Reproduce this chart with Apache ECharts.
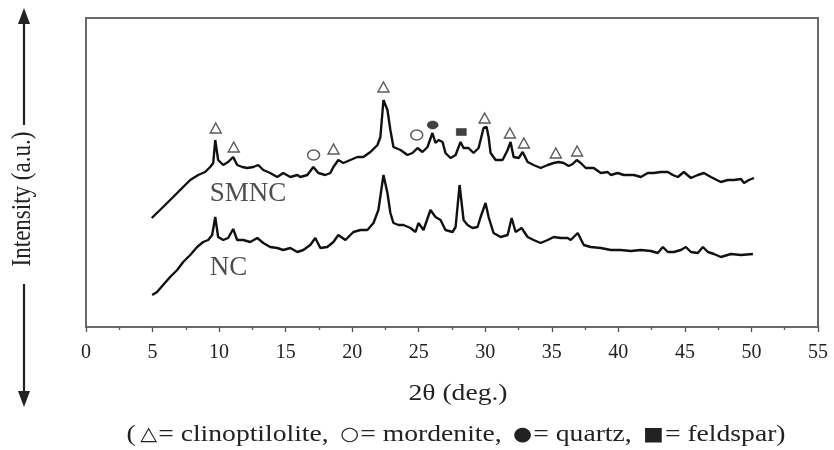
<!DOCTYPE html>
<html>
<head>
<meta charset="utf-8">
<script src="https://cdn.jsdelivr.net/npm/echarts@6/dist/echarts.min.js"></script>
<style>
  html, body { margin: 0; padding: 0; background: #fff; }
  #chart { width: 834px; height: 450px; }
</style>
</head>
<body>
<div id="chart"></div>
<script>
// XRD patterns: [2θ (deg.), intensity (a.u.)]
const smnc = [
  [4.94,109],[5.79,120],[6.55,130],[7.30,140],[7.83,147],[8.43,152],[8.95,155],[9.33,160],[9.56,164],
  [9.71,187],[9.78,189],[9.93,167],[10.31,162],[10.68,165],[11.06,170],[11.36,162],[11.74,160],
  [12.11,159],[12.57,160],[12.94,162],[13.32,157],[13.84,154],[14.37,150],[14.82,154],[15.35,150],
  [15.88,152],[16.10,150],[16.63,152],[17.08,160],[17.46,154],[17.98,152],[18.36,154],[18.59,160],
  [18.96,167],[19.34,164],[19.86,167],[20.39,170],[20.84,170],[21.37,175],[21.90,182],[22.12,190],
  [22.35,227],[22.65,217],[22.87,197],[23.10,180],[23.63,177],[24.15,172],[24.53,174],[24.91,179],
  [25.28,175],[25.66,180],[26.03,194],[26.26,184],[26.49,187],[26.79,185],[27.01,174],[27.39,169],
  [27.77,172],[28.14,185],[28.37,179],[28.74,179],[29.12,174],[29.50,179],[29.87,199],[30.10,200],
  [30.25,190],[30.40,174],[30.78,167],[31.30,167],[31.68,177],[31.90,185],[32.13,170],[32.51,169],
  [32.81,175],[33.18,165],[33.63,162],[34.16,159],[34.69,162],[35.14,164],[35.52,165],[35.89,164],
  [36.27,161],[36.57,163],[36.87,167],[37.17,164],[37.55,159],[38.15,159],[38.68,154],[39.20,155],
  [39.43,152],[39.95,154],[40.41,152],[41.16,152],[41.69,150],[42.21,154],[42.66,154],[43.19,155],
  [43.72,155],[44.09,152],[44.47,150],[44.92,155],[45.45,149],[45.97,152],[46.43,154],[46.95,150],
  [47.70,145],[48.23,147],[48.68,147],[49.21,148],[49.44,144],[49.81,147],[50.19,149]
];
const nc = [
  [4.97,32],[5.34,35],[5.79,42],[6.32,50],[6.85,57],[7.30,65],[7.83,72],[8.35,80],[8.80,85],[9.18,87],
  [9.48,92],[9.71,110],[9.78,112],[9.93,90],[10.31,87],[10.68,89],[11.06,98],[11.36,87],[11.81,87],
  [12.34,85],[12.87,89],[13.32,84],[13.84,80],[14.37,79],[14.82,77],[15.35,79],[15.88,75],[16.33,77],
  [16.85,82],[17.23,89],[17.61,79],[18.13,80],[18.59,85],[18.96,92],[19.49,87],[20.09,95],[20.62,97],
  [21.14,97],[21.60,104],[21.97,117],[22.35,152],[22.65,134],[22.87,114],[23.10,104],[23.48,102],
  [23.85,102],[24.38,99],[24.76,95],[24.98,104],[25.36,97],[25.88,117],[26.26,110],[26.64,107],
  [27.01,97],[27.54,95],[27.77,100],[28.07,142],[28.37,107],[28.67,102],[29.04,99],[29.42,100],
  [29.65,110],[30.02,124],[30.25,110],[30.62,94],[31.15,90],[31.68,92],[31.98,109],[32.28,95],
  [32.73,99],[33.18,90],[33.63,87],[34.16,84],[34.69,87],[35.14,90],[35.67,89],[36.19,89],[36.42,87],
  [36.95,94],[37.40,82],[37.92,80],[38.68,79],[39.43,77],[40.18,77],[40.93,76],[41.69,77],[42.44,76],
  [42.96,74],[43.34,80],[43.72,75],[44.17,75],[44.70,77],[45.07,80],[45.45,75],[45.97,74],[46.35,80],
  [46.73,75],[47.18,73],[47.70,70],[48.46,73],[49.21,72],[50.11,73]
];

// Phase markers placed above the identified reflections
const clinoptilolite = [[9.75,199],[11.1,180],[18.6,178],[22.35,240],[29.95,209],[31.85,194],[32.9,184],[35.3,174],[36.9,176]];
const mordenite = [[17.1,172],[24.85,192]];
const quartz = [[26.05,202]];
const feldspar = [[28.2,195]];

// Sample names written next to each trace
const sampleLabels = [
  { name: 'SMNC', value: [9.3, 133] },
  { name: 'NC', value: [9.3, 59] }
];

const xTickMin = 0, xTickMax = 55, xTickStep = 5;
const xTitle = '2\u03b8 (deg.)';
const yTitle = 'Intensity (a.u.)';
// Footnote pieces: [symbol, phase name]
const legendKey = [
  ['\u25b3', 'clinoptilolite'],
  ['\u25cb', 'mordenite'],
  ['\u25cf', 'quartz'],
  ['\u25a0', 'feldspar']
];

const serif = '"Liberation Serif", "DejaVu Serif", serif';
const ink = '#222';
const chart = echarts.init(document.getElementById('chart'));

function markerSeries(data, symbol, size, filled) {
  return {
    type: 'scatter',
    data: data,
    symbol: symbol,
    symbolSize: size,
    silent: true,
    z: 5,
    itemStyle: filled
      ? { color: '#111', borderColor: '#111', borderWidth: 0.5 }
      : { color: '#fff', borderColor: '#333', borderWidth: 1.4 }
  };
}

// Footnote as rich text: symbols drawn from a font that has the geometric shapes
const footText = '{t|(}' + legendKey.map(function (k) {
  return '{s|' + k[0] + '}{t|= ' + k[1] + '}';
}).join('{t|, }') + '{t|)}';

chart.setOption({
  animation: false,
  backgroundColor: '#fff',
  grid: {
    left: 86, right: 16, top: 18, bottom: 123,
    show: true, borderColor: '#6a6a6a', borderWidth: 2, backgroundColor: 'transparent'
  },
  xAxis: {
    type: 'value',
    min: xTickMin, max: xTickMax, interval: xTickStep,
    axisLine: { lineStyle: { color: '#6a6a6a', width: 2 } },
    axisTick: { length: 5, lineStyle: { color: '#555', width: 1.3 } },
    minorTick: { show: true, splitNumber: 2, length: 3, lineStyle: { color: '#555', width: 1.3 } },
    axisLabel: { fontFamily: serif, fontSize: 20, color: ink, margin: 16 },
    splitLine: { show: false }
  },
  yAxis: {
    type: 'value', min: 0, max: 309,
    axisLine: { show: false }, axisTick: { show: false },
    axisLabel: { show: false }, splitLine: { show: false }
  },
  series: [
    {
      type: 'line', data: smnc, showSymbol: false, smooth: false,
      lineStyle: { color: '#111', width: 2.4 }, silent: true
    },
    {
      type: 'line', data: nc, showSymbol: false, smooth: false,
      lineStyle: { color: '#111', width: 2.4 }, silent: true
    },
    markerSeries(clinoptilolite, 'triangle', [11, 10], false),
    markerSeries(mordenite, 'circle', [12, 10], false),
    markerSeries(quartz, 'circle', [11, 8], true),
    markerSeries(feldspar, 'rect', [10, 7], true),
    {
      type: 'scatter', data: sampleLabels, symbolSize: 0, silent: true,
      label: {
        show: true, position: 'right', distance: 0,
        formatter: function (p) { return p.name; },
        fontFamily: serif, fontSize: 27, color: ink
      }
    }
  ],
  graphic: [
    {
      type: 'text', x: 23, y: 199, rotation: Math.PI / 2, scaleY: 1.15,
      style: {
        text: yTitle, font: '23px ' + serif, fill: ink,
        align: 'center', verticalAlign: 'middle'
      }
    },
    { type: 'line', shape: { x1: 24, y1: 20, x2: 24, y2: 125 }, style: { stroke: ink, lineWidth: 2.2 } },
    { type: 'polygon', shape: { points: [[24, 8], [18, 24], [30, 24]] }, style: { fill: ink } },
    { type: 'line', shape: { x1: 24, y1: 284, x2: 24, y2: 394 }, style: { stroke: ink, lineWidth: 2.2 } },
    { type: 'polygon', shape: { points: [[24, 407], [18, 391], [30, 391]] }, style: { fill: ink } },
    {
      type: 'text', x: 458, y: 394, scaleX: 1.2,
      style: {
        text: xTitle, font: '23px ' + serif, fill: ink,
        align: 'center', verticalAlign: 'middle'
      }
    },
    {
      type: 'text', x: 456, y: 435, scaleX: 1.15,
      style: {
        text: footText, align: 'center', verticalAlign: 'middle',
        rich: {
          t: { font: '24px ' + serif, fill: ink },
          s: { font: '19px "DejaVu Sans", sans-serif', fill: ink, padding: [0, 1, 0, 4] }
        }
      }
    }
  ]
});
</script>
</body>
</html>
